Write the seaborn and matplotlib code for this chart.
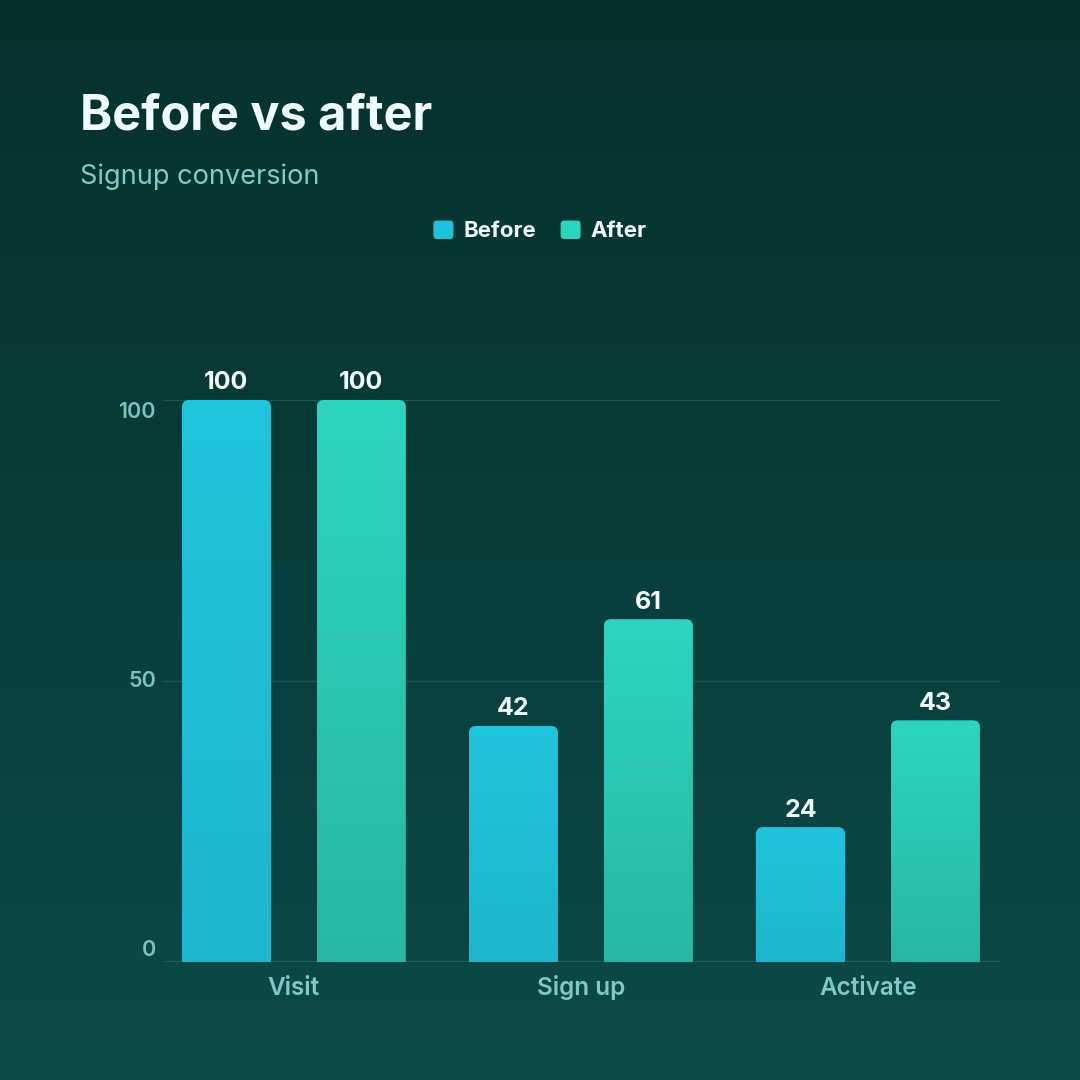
import numpy as np
import pandas as pd
import matplotlib
matplotlib.use("Agg")
import matplotlib.pyplot as plt
import seaborn as sns
from matplotlib.colors import LinearSegmentedColormap
from matplotlib.patches import FancyBboxPatch, Patch
from matplotlib.legend_handler import HandlerPatch

# data
stages = ["Visit", "Sign up", "Activate"]
before = [100, 42, 24]
after = [100, 61, 43]
series = ["Before", "After"]
y_ticks = [0, 50, 100]

df = pd.DataFrame({
    "stage": stages * 2,
    "value": before + after,
    "series": ["Before"] * len(stages) + ["After"] * len(stages),
})

colors = {"Before": "#1fc2da", "After": "#2dd4bf"}
grad = {"Before": ("#20c4dc", "#1db6ce"), "After": ("#2dd5c0", "#26b8a2")}

sns.set_theme(style="white")
plt.rcParams["font.family"] = ["Inter", "DejaVu Sans"]

fig = plt.figure(figsize=(10.8, 10.8), dpi=100)

# background gradient
bg = fig.add_axes([0, 0, 1, 1], zorder=-10)
bg_cmap = LinearSegmentedColormap.from_list("bg", ["#05312d", "#0c4a48"])
bg.imshow(np.linspace(0, 1, 256).reshape(-1, 1), cmap=bg_cmap, aspect="auto",
          extent=[0, 1, 0, 1], origin="upper")
bg.axis("off")

ax = fig.add_axes([163 / 1080, 1 - 962 / 1080, 837 / 1080, 562 / 1080])
ax.patch.set_alpha(0)

sns.barplot(data=df, x="stage", y="value", hue="series", hue_order=series,
            palette=colors, width=0.94, gap=0.34, legend=False, ax=ax)

ax.set_xlim(-0.456, 2.46)
ax.set_ylim(0, 100)
ax.set_yticks(y_ticks)
ax.set_yticklabels([])
ax.set_xlabel("")
ax.set_ylabel("")
for s in ax.spines.values():
    s.set_visible(False)
for t in y_ticks[1:]:
    ax.axhline(t, color="#1a5550", lw=1, zorder=0)
ax.axhline(0, color="#1e5c57", lw=1.5, zorder=0)

ax.tick_params(axis="both", length=0)
ax.tick_params(axis="x", pad=23.5, labelsize=17.5, labelcolor="#7fc8c4")
for lab in ax.get_xticklabels():
    lab.set_fontweight("semibold")
    lab.set_verticalalignment("baseline")

# y labels: top and bottom ones sit inside the plot range
y_shift = {0: 9, 50: 0, 100: -9}
for t in y_ticks:
    ax.annotate(f"{t}", xy=(0, t), xycoords=("axes fraction", "data"),
                xytext=(-5, y_shift[t]), textcoords="offset points",
                ha="right", va="center", fontsize=15.5, fontweight="semibold",
                color="#7cc2bd", annotation_clip=False)

# pixels per data unit, used for rounded corners
p0 = ax.transData.transform((0, 0))
p1 = ax.transData.transform((1, 1))
px_x = p1[0] - p0[0]
px_y = p1[1] - p0[1]
r_px = 7
rx = r_px / px_x
ry = r_px / px_y

for container, name in zip(ax.containers, series):
    top_c, bot_c = grad[name]
    cmap = LinearSegmentedColormap.from_list(name, [bot_c, top_c])
    for bar in container:
        bar.set_alpha(0)
        x0, w, h = bar.get_x(), bar.get_width(), bar.get_height()
        rp = FancyBboxPatch((x0, -ry), w, h + ry,
                            boxstyle=f"round,pad=0,rounding_size={rx}",
                            mutation_aspect=ry / rx, facecolor="none",
                            edgecolor="none", zorder=2)
        ax.add_patch(rp)
        im = ax.imshow(np.linspace(0, 1, 128).reshape(-1, 1), cmap=cmap,
                       aspect="auto", extent=[x0, x0 + w, 0, h],
                       origin="lower", zorder=2)
        im.set_clip_path(rp)
    ax.bar_label(container, labels=[f"{v:.0f}" for v in container.datavalues],
                 padding=4, fontsize=18, fontweight="bold", color="#f0fbfa",
                 clip_on=False)

ax.set_xlim(-0.456, 2.46)
ax.set_ylim(0, 100)

# title and subtitle
fig.text(80 / 1080, 1 - 129 / 1080, "Before vs after", fontsize=35,
         fontweight="bold", color="#effcfb", va="baseline", ha="left")
fig.text(80 / 1080, 1 - 184 / 1080, "Signup conversion", fontsize=19.5,
         color="#7ccfc6", va="baseline", ha="left")


def rounded_handle(legend, orig_handle, xdescent, ydescent, width, height, fontsize):
    return FancyBboxPatch((-xdescent, -ydescent), width, height,
                          boxstyle="round,pad=0,rounding_size=2.5")


handles = [Patch(facecolor=colors[s], edgecolor="none") for s in series]
leg = fig.legend(handles, series, loc="center", bbox_to_anchor=(0.5, 1 - 231 / 1080),
                 ncol=2, frameon=False, handlelength=0.9, handleheight=0.9,
                 handletextpad=0.45, columnspacing=1.1,
                 prop={"size": 16, "weight": "bold"},
                 handler_map={Patch: HandlerPatch(patch_func=rounded_handle)})
for t in leg.get_texts():
    t.set_color("#f0fbfa")

fig.savefig("out.png", dpi=100)
